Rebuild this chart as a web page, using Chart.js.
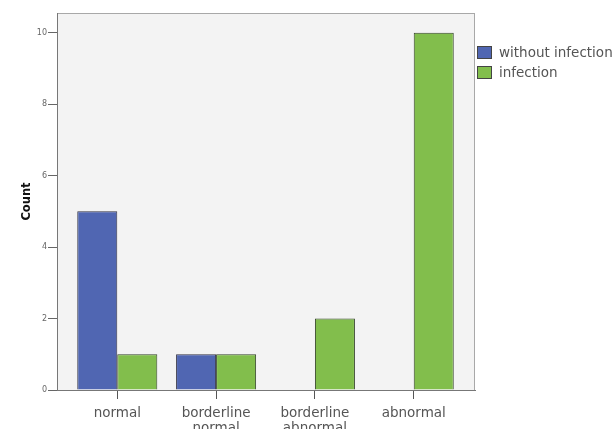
<!DOCTYPE html>
<html>
<head>
<meta charset="utf-8">
<script src="https://cdn.jsdelivr.net/npm/chart.js@4"></script>
<style>
  html, body { margin: 0; padding: 0; background: #fff; }
  #wrap { width: 614px; height: 429px; }
</style>
</head>
<body>
<div id="wrap"><canvas id="chart" width="614" height="429"></canvas></div>
<script>
// categories and counts
const categories = ['normal', ['borderline', 'normal'], ['borderline', 'abnormal'], 'abnormal'];
const withoutInfection = [5, 1, 0, 0];
const infection = [1, 1, 2, 10];
const yTicks = [0, 2, 4, 6, 8, 10];

const FONT = '"DejaVu Sans", Verdana, sans-serif';

// plot background, frame and a legend at the right
const framePlugin = {
    id: 'frame',
    beforeDraw(chart) {
        const { ctx, chartArea: a } = chart;
        ctx.save();
        ctx.fillStyle = '#f3f3f3';
        ctx.fillRect(a.left, a.top, a.right - a.left, a.bottom - a.top);
        ctx.strokeStyle = '#a8a8a8';
        ctx.lineWidth = 1;
        ctx.strokeRect(a.left + 0.5, a.top + 0.5, a.right - a.left - 1, a.bottom - a.top);
        ctx.restore();
    },
    afterDraw(chart) {
        const { ctx } = chart;
        ctx.save();
        ctx.font = '13.5px ' + FONT;
        ctx.textBaseline = 'middle';
        chart.data.datasets.forEach((ds, i) => {
            const y = 46 + i * 20;
            ctx.fillStyle = ds.backgroundColor;
            ctx.fillRect(477, y, 15, 13);
            ctx.strokeStyle = '#444';
            ctx.strokeRect(477.5, y + 0.5, 14, 12);
            ctx.fillStyle = '#555';
            ctx.fillText(ds.label, 499, y + 7);
        });
        ctx.restore();
    }
};

new Chart(document.getElementById('chart'), {
    type: 'bar',
    data: {
        datasets: [
            {
                label: 'without infection',
                data: withoutInfection.map((v, i) => ({ x: i, y: v })),
                backgroundColor: '#5066b2',
                borderColor: '#333344',
                borderWidth: 1
            },
            {
                label: 'infection',
                data: infection.map((v, i) => ({ x: i, y: v })),
                backgroundColor: '#82be4c',
                borderColor: '#34432a',
                borderWidth: 1
            }
        ]
    },
    options: {
        responsive: false,
        animation: false,
        layout: { padding: { top: 13, right: 139, left: 20, bottom: 0 } },
        plugins: {
            legend: { display: false },
            tooltip: { enabled: false }
        },
        datasets: {
            bar: { categoryPercentage: 0.81, barPercentage: 1.0 }
        },
        scales: {
            x: {
                type: 'linear',
                offset: false,
                min: -0.61,
                max: 3.62,
                afterBuildTicks(scale) {
                    scale.ticks = categories.map((c, i) => ({ value: i }));
                },
                afterFit(scale) { scale.height = 39; },
                grid: { offset: false, drawOnChartArea: false, drawTicks: true, tickLength: 9, color: '#555' },
                border: { color: '#777' },
                ticks: {
                    autoSkip: false,
                    maxRotation: 0,
                    padding: 7,
                    color: '#555',
                    font: { size: 13.5, family: FONT, lineHeight: 1.1 },
                    callback: (v) => categories[v]
                }
            },
            y: {
                min: 0,
                max: 10.55,
                afterBuildTicks(scale) {
                    scale.ticks = yTicks.map(v => ({ value: v }));
                },
                afterFit(scale) { scale.width = 37; },
                grid: { drawOnChartArea: false, drawTicks: true, tickLength: 9, color: '#666' },
                border: { color: '#777' },
                ticks: {
                    padding: 1,
                    color: '#666',
                    font: { size: 8, family: FONT }
                },
                title: {
                    display: true,
                    text: 'Count',
                    color: '#111',
                    padding: { top: 0, bottom: 0 },
                    font: { size: 11.5, weight: 'bold', family: FONT }
                }
            }
        }
    },
    plugins: [framePlugin]
});
</script>
</body>
</html>
